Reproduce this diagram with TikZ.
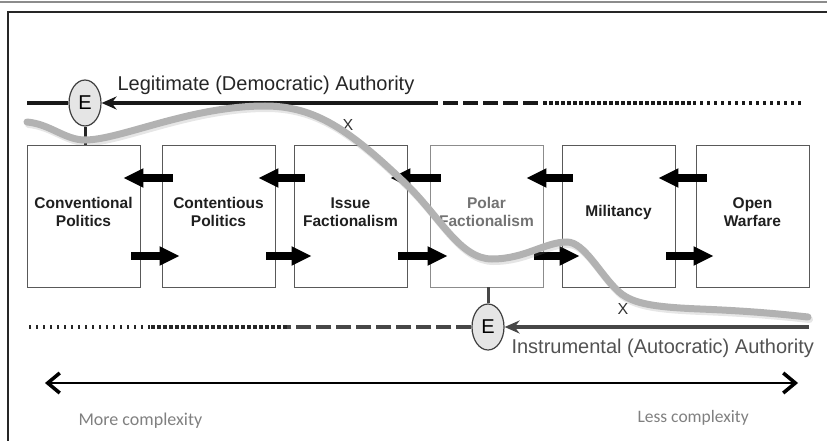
\documentclass[tikz,border=0pt]{standalone}
\usepackage{fontspec}
\setmainfont{Liberation Sans}
\newfontfamily\calfont{Carlito}
\usetikzlibrary{arrows.meta,shapes.geometric,calc}
\begin{document}
\begin{tikzpicture}[x=1pt,y=-1pt,
  stagebox/.style={draw=black!65,line width=0.9pt,fill=white,minimum width=113pt,minimum height=142pt,inner sep=0pt},
  stagetext/.style={font=\fontsize{15.5}{18}\selectfont\bfseries,text=black!88,align=center},
  blockarrow/.style={line width=8pt,-{Triangle[length=20pt,width=18pt]}},
  ebox/.style={ellipse,draw=black!75,line width=1.2pt,fill=black!10,minimum width=32pt,minimum height=46pt,inner sep=0pt,font=\fontsize{20}{20}\selectfont},
  topline/.style={line width=4pt,draw=black!90},
  botline/.style={line width=4pt,draw=black!72},
  stem/.style={line width=3pt,draw=black!85},
  tipstyle/.style={-{Stealth[length=15pt,width=13pt,inset=5pt]}},
  xmark/.style={font=\fontsize{16}{16}\selectfont,text=black!80},
  bigarrow/.style={line width=2pt,{Straight Barb[length=12pt,width=20pt,line width=3.5pt]}-{Straight Barb[length=12pt,width=20pt,line width=3.5pt]}}
]
\useasboundingbox (0,0) rectangle (827,441);
% frame
\draw[line width=2pt,black!45] (0,2) -- (827,2);
\draw[line width=1.4pt,black!85] (8,441) -- (8,12) -- (827,12);

% stage boxes
\node[stagebox] (b1) at (83.5,216) {};
\node[stagebox] (b2) at (218.5,216) {};
\node[stagebox] (b3) at (350.5,216) {};
\node[stagebox,draw=black!45] (b4) at (486.5,216) {};
\node[stagebox] (b5) at (618.5,216) {};
\node[stagebox] (b6) at (752.5,216) {};

\node[stagetext] (t1) at ([yshift=4pt]b1.center) {Conventional\\Politics};
\node[stagetext] (t2) at ([yshift=4pt]b2.center) {Contentious\\Politics};
\node[stagetext] (t3) at ([yshift=4pt]b3.center) {Issue\\Factionalism};
\node[stagetext,text=black!55] (t4) at ([yshift=4pt]b4.center) {Polar\\Factionalism};
\node[stagetext] (t5) at ([yshift=4pt]b5.center) {Militancy};
\node[stagetext] (t6) at ([yshift=4pt]b6.center) {Open\\Warfare};

% block arrows
\foreach \a/\b in {b1/b2,b2/b3,b3/b4,b4/b5,b5/b6}{
  \draw[blockarrow] ([xshift=11pt,yshift=38pt]\b.west) -- ([xshift=-17pt,yshift=38pt]\a.east);
  \draw[blockarrow] ([xshift=-9pt,yshift=-40pt]\a.east) -- ([xshift=18pt,yshift=-40pt]\b.west);
}

% legitimate authority line
\node[ebox] (E1) at (85,103) {E};
\coordinate (tl0) at (27,103);
\coordinate (tl1) at (423,103);
\coordinate (tl2) at (543,103);
\coordinate (tl3) at (693,103);
\coordinate (tl4) at (805,103);
\draw[topline] (tl0) -- (E1.west);
\draw[topline,tipstyle] (tl1) -- (E1.east);
\draw[topline,dash pattern=on 15pt off 5pt] (tl1) -- (tl2);
\draw[topline,dash pattern=on 4pt off 2pt] (tl2) -- (tl3);
\draw[topline,dash pattern=on 2.5pt off 4.5pt] (tl3) -- (tl4);
\draw[stem] (E1.south) -- (E1.south |- b1.north);
\node[anchor=west,font=\fontsize{20}{20}\selectfont,text=black!85] (legit) at (114,85) {Legitimate (Democratic) Authority};

% instrumental authority line
\node[ebox] (E2) at (488,327) {E};
\coordinate (bl0) at (809,327);
\coordinate (bl1) at (287,327);
\coordinate (bl2) at (150,327);
\coordinate (bl3) at (29,327);
\draw[botline,tipstyle] (bl0) -- (E2.east);
\draw[botline,dash pattern=on 15pt off 5pt] (E2.west) -- (bl1);
\draw[botline,draw=black!85,dash pattern=on 4pt off 2pt] (bl1) -- (bl2);
\draw[botline,draw=black!85,dash pattern=on 2.5pt off 4.5pt] (bl2) -- (bl3);
\draw[stem,draw=black!72] (E2.north) -- (E2.north |- b4.south);
\node[anchor=west,font=\fontsize{20}{20}\selectfont,text=black!68] (instr) at (508,348) {Instrumental (Autocratic) Authority};

% X marks
\node[xmark] (x1) at (348,125) {X};
\node[xmark] (x2) at (623,309) {X};

% trajectory curve
\def\trajectory{(27,122) .. controls (50,124) and (65,140) .. (85,140)
  .. controls (120,140) and (190,106) .. (265,106)
  .. controls (315,106) and (350,130) .. (407,185)
  .. controls (440,217) and (460,259) .. (492,259)
  .. controls (525,259) and (545,242) .. (567,242)
  .. controls (584,242) and (600,274) .. (617,290)
  .. controls (630,303) and (650,307) .. (700,309)
  .. controls (750,311) and (780,314) .. (808,317)}
\draw[line width=7pt,black!50,opacity=0.2,line cap=round,shift={(1.5,2.5)}] \trajectory;
\draw[line width=7pt,black!30,line cap=round] \trajectory;

% complexity axis
\coordinate (cxL) at (45,383);
\coordinate (cxR) at (798,383);
\draw[bigarrow,black!25,opacity=0.6,shift={(2,3)}] (cxL) -- (cxR);
\draw[bigarrow,black] (cxL) -- (cxR);
\node[anchor=west,font=\calfont\fontsize{18}{18}\selectfont,text=black!50] (more) at (75,421) {More complexity};
\node[anchor=west,font=\calfont\fontsize{17.5}{18}\selectfont,text=black!50] (less) at (634,418) {Less complexity};
\end{tikzpicture}
\end{document}
